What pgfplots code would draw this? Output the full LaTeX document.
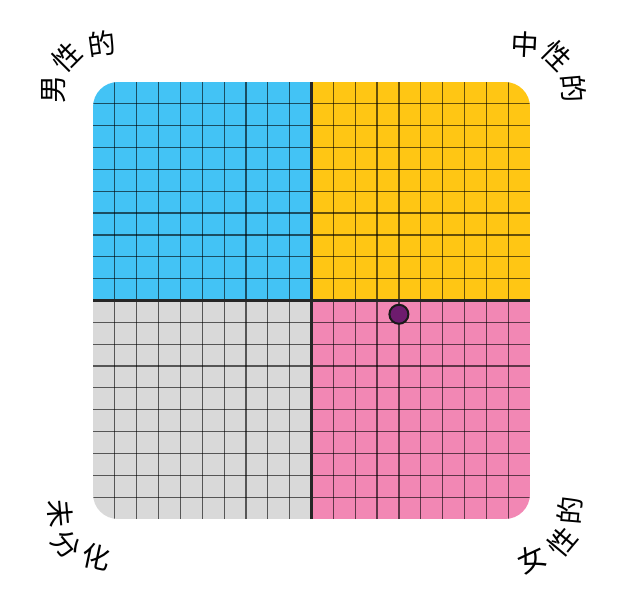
\documentclass[border=0pt]{standalone}
\usepackage{pgfplots}
\pgfplotsset{compat=1.18}
\usepackage{fontspec}
\newfontfamily\cjk{Noto Sans CJK SC}
\definecolor{cblue}{HTML}{43C3F5}
\definecolor{cyellow}{HTML}{FFC614}
\definecolor{cgrey}{HTML}{D9D9D9}
\definecolor{cpink}{HTML}{F287B4}
\definecolor{cpurple}{HTML}{6E1B6E}
\begin{document}
\begin{tikzpicture}[x=1pt,y=1pt]
\path[use as bounding box] (-93,-81) rectangle (531,519);
\begin{axis}[
  at={(0,0)}, anchor=south west,
  scale only axis, width=437pt, height=437pt,
  xmin=-10, xmax=10, ymin=-10, ymax=10,
  hide axis, clip=false,
]
\begin{scope}
\clip[rounded corners=25pt] (axis cs:-10,-10) rectangle (axis cs:10,10);
\fill[cblue] (axis cs:-10,0) rectangle (axis cs:0,10);
\fill[cyellow] (axis cs:0,0) rectangle (axis cs:10,10);
\fill[cgrey] (axis cs:-10,-10) rectangle (axis cs:0,0);
\fill[cpink] (axis cs:0,-10) rectangle (axis cs:10,0);
\pgfplotsinvokeforeach{-9,...,9}{
  \draw[black, opacity=0.6, line width=1.2pt] (axis cs:#1,-10) -- (axis cs:#1,10);
  \draw[black, opacity=0.6, line width=1.2pt] (axis cs:-10,#1) -- (axis cs:10,#1);
}
\end{scope}
\draw[black!85, line width=3pt] (axis cs:0,-10) -- (axis cs:0,10);
\draw[black!85, line width=3pt] (axis cs:-10,0) -- (axis cs:10,0);
\addplot[only marks, mark=*, mark size=9.5pt, mark options={fill=cpurple, draw=black!90, line width=2pt}] coordinates {(4.0,-0.63)};
\end{axis}
\begin{scope}[every node/.style={font=\cjk\fontsize{28}{28}\selectfont, inner sep=0pt}]
% top-left  (px -> x=px-93, y=519-py)
\node[rotate=90] at (-39.7,429) {男};
\node[rotate=45] at (-25.7,461.7) {性};
\node[rotate=8] at (8.7,475) {的};
% top-right
\node[rotate=-3] at (432,474) {中};
\node[rotate=-45] at (464.3,463.3) {性};
\node[rotate=-85] at (480.3,430.7) {的};
% bottom-left
\node[rotate=-85] at (-33,5.7) {未};
\node[rotate=-50] at (-26.3,-26) {分};
\node[rotate=-12] at (3.7,-38.3) {化};
% bottom-right
\node[rotate=25] at (438.3,-39.3) {女};
\node[rotate=50] at (469.3,-23.3) {性};
\node[rotate=85] at (476.5,8.3) {的};
\end{scope}
\end{tikzpicture}
\end{document}
